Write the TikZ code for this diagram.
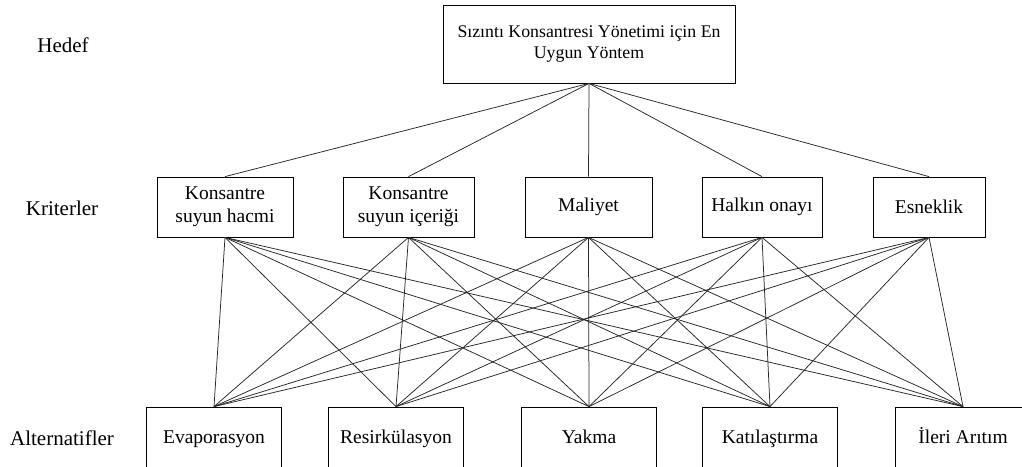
\documentclass[tikz,border=0pt]{standalone}
\usepackage{fontspec}
\setmainfont{Liberation Serif}
\usetikzlibrary{positioning}
\tikzset{
  hedefbox/.style = {draw, line width=0.8pt, minimum width=292pt,
                     minimum height=78pt, align=center,
                     font=\fontsize{17.8}{20.7}\selectfont},
  kriter/.style   = {draw, line width=0.8pt, minimum height=60pt,
                     align=center, font=\fontsize{19.5}{22.7}\selectfont},
  alter/.style    = {draw, line width=0.8pt, minimum width=135pt,
                     minimum height=62pt, text height=14pt, text depth=4pt,
                     font=\fontsize{19.5}{22.7}\selectfont},
  seviye/.style   = {font=\fontsize{21}{24}\selectfont},
  bag/.style      = {line width=0.75pt, black!85}
}

\begin{document}
\begin{tikzpicture}[x=1pt, y=-1pt]
\clip (0,0) rectangle (1022,466);

% --- LEVEL LABELS ---
\node[seviye] (lh) at (63,45) {Hedef};
\node[seviye] (lk) at (62,208) {Kriterler};
\node[seviye] (la) at (62,438) {Alternatifler};

% --- GOAL ---
\node[hedefbox] (hedef) at (589,44) {Sızıntı Konsantresi Yönetimi için En\\Uygun Yöntem};

% --- CRITERIA ---
\node[kriter, minimum width=136pt] (k1) at (225,207) {Konsantre\\suyun hacmi};
\node[kriter, minimum width=131pt] (k2) at (408.5,207) {Konsantre\\suyun içeriği};
\node[kriter, minimum width=127pt] (k3) at (588.5,207) {Maliyet};
\node[kriter, minimum width=120pt] (k4) at (762,207) {Halkın onayı};
\node[kriter, minimum width=112pt] (k5) at (929,207) {Esneklik};

% --- ALTERNATIVES ---
\node[alter] (a1) at (214,438) {Evaporasyon};
\node[alter] (a2) at (396,438) {Resirkülasyon};
\node[alter] (a3) at (589,438) {Yakma};
\node[alter] (a4) at (770,438) {Katılaştırma};
\node[alter] (a5) at (963,438) {İleri Arıtım};

% --- GOAL TO CRITERIA ---
\foreach \k in {1,...,5}
  \draw[bag] (hedef.south) -- (k\k.north);

% --- CRITERIA TO ALTERNATIVES ---
\foreach \k in {1,...,5}
  \foreach \a in {1,...,5}
    \draw[bag] (k\k.south) -- (a\a.north);
\end{tikzpicture}
\end{document}
